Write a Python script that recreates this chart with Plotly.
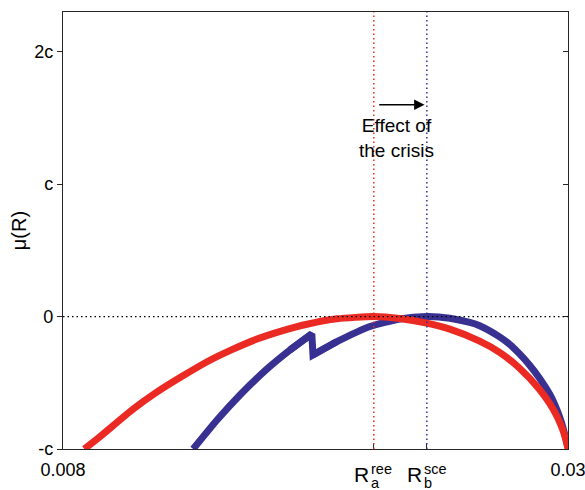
import plotly.graph_objects as go

# Rates (x) and normalised utility mu(R) in units of c (y)
R_A = 0.02154   # R_a^ree
R_B = 0.02385   # R_b^sce

R_RED = [0.00893, 0.00962, 0.01106, 0.01210, 0.01319, 0.01428, 0.01536, 0.01645,
         0.01754, 0.01863, 0.01993, 0.02154, 0.02267, 0.02385, 0.02485, 0.02615,
         0.02702, 0.02789, 0.02876, 0.02920, 0.02954, 0.02976, 0.02989, 0.03000]
MU_RED = [-1.0, -0.905, -0.698, -0.569, -0.451, -0.341, -0.250, -0.170,
          -0.108, -0.058, -0.017, 0.0, -0.015, -0.050, -0.095, -0.185,
          -0.270, -0.390, -0.550, -0.655, -0.760, -0.850, -0.920, -1.0]

R_BLUE = [0.01367, 0.01471, 0.01571, 0.01689, 0.01789, 0.01884, 0.01889, 0.01993,
          0.02137, 0.02267, 0.02385, 0.02485, 0.02572, 0.02615, 0.02702, 0.02746,
          0.02789, 0.02833, 0.02876, 0.02920, 0.02941, 0.02963, 0.02976, 0.02989,
          0.03000]
MU_BLUE = [-1.0, -0.781, -0.592, -0.395, -0.252, -0.131, -0.290, -0.190,
           -0.075, -0.018, 0.0, -0.012, -0.044, -0.069, -0.153, -0.210,
           -0.282, -0.367, -0.465, -0.585, -0.660, -0.755, -0.827, -0.911,
           -0.986]
BLUE_PEAK, BLUE_DIP = 5, 6   # the jump in the blue curve

X_TICKS = [0.008, R_A, R_B, 0.030]
X_TICKTEXT = ["0.008", "", "", "0.03"]
Y_TICKS = [-1, 0, 1, 2]
Y_TICKTEXT = ["-c", "0", "c", "2c"]

RED = "#ec2a24"
BLUE = "#383192"
FONT = "Liberation Sans, Arial, Helvetica, sans-serif"
AXIS_COLOR = "#262626"
DOT = "1.5px,3px"

fig = go.Figure()


def blue_piece(i0, i1, shape):
    fig.add_trace(go.Scatter(x=R_BLUE[i0:i1], y=MU_BLUE[i0:i1], mode="lines",
                             line=dict(color=BLUE, width=7, shape=shape, smoothing=0.6),
                             hoverinfo="skip"))


# smooth branches on either side of the jump, plus a sharp-cornered piece across it
blue_piece(0, BLUE_PEAK + 1, "spline")
blue_piece(BLUE_PEAK - 1, BLUE_DIP + 2, "linear")
blue_piece(BLUE_DIP, len(R_BLUE), "spline")

fig.add_trace(go.Scatter(x=R_RED, y=MU_RED, mode="lines",
                         line=dict(color=RED, width=7, shape="spline", smoothing=0.6),
                         hoverinfo="skip"))
# empty trace so the right-hand tick axis is drawn
fig.add_trace(go.Scatter(x=[], y=[], yaxis="y2", hoverinfo="skip"))

# reference lines
fig.add_hline(y=0, line=dict(color="black", width=1.3, dash=DOT))
fig.add_vline(x=R_A, line=dict(color=RED, width=1.5, dash=DOT))
fig.add_vline(x=R_B, line=dict(color=BLUE, width=1.5, dash=DOT))

annotations = [
    # arrow showing the shift of the optimum
    dict(x=0.02375, y=1.60, ax=0.02171, ay=1.60, xref="x", yref="y",
         axref="x", ayref="y", text="", showarrow=True, arrowhead=2,
         arrowsize=1.3, arrowwidth=1.6, arrowcolor="black"),
    dict(x=0.02254, y=1.345, xref="x", yref="y", text="Effect of<br>the crisis",
         showarrow=False, font=dict(size=19, family=FONT, color="black"),
         xanchor="center", yanchor="middle"),
]
for xv, sup, sub in [(R_A, "ree", "a"), (R_B, "sce", "b")]:
    annotations += [
        dict(x=xv, y=0, xref="x", yref="paper", text="R", showarrow=False,
             font=dict(size=21, family=FONT, color="black"),
             xanchor="right", yanchor="middle", xshift=-3, yshift=-25),
        dict(x=xv, y=0, xref="x", yref="paper", text=sup, showarrow=False,
             font=dict(size=14.5, family=FONT, color="black"),
             xanchor="left", yanchor="middle", xshift=-5, yshift=-20),
        dict(x=xv, y=0, xref="x", yref="paper", text=sub, showarrow=False,
             font=dict(size=14.5, family=FONT, color="black"),
             xanchor="left", yanchor="middle", xshift=-5, yshift=-34),
    ]

fig.update_layout(
    width=585, height=490,
    margin=dict(l=63, r=17, t=12, b=41, autoexpand=False),
    paper_bgcolor="white", plot_bgcolor="white",
    showlegend=False,
    font=dict(family=FONT, size=18, color="black"),
    annotations=annotations,
    xaxis=dict(range=[0.008, 0.030], tickvals=X_TICKS, ticktext=X_TICKTEXT,
               ticks="inside", ticklen=6, tickcolor=AXIS_COLOR, tickwidth=1.2,
               ticklabelstandoff=4, ticklabeloverflow="allow", automargin=False,
               showline=True, linecolor=AXIS_COLOR, linewidth=1.2, mirror=True,
               showgrid=False, zeroline=False, tickfont=dict(size=18)),
    yaxis=dict(range=[-1, 2.30], tickvals=Y_TICKS, ticktext=Y_TICKTEXT,
               ticks="outside", ticklen=5, tickcolor=AXIS_COLOR, tickwidth=1.2,
               automargin=False,
               showline=True, linecolor=AXIS_COLOR, linewidth=1.2, mirror=True,
               showgrid=False, zeroline=False, tickfont=dict(size=18),
               title=dict(text="μ(R)", font=dict(size=20), standoff=2)),
    yaxis2=dict(range=[-1, 2.30], overlaying="y", side="right", tickvals=Y_TICKS,
                ticks="inside", ticklen=5, tickcolor=AXIS_COLOR, tickwidth=1.2,
                showticklabels=False, showline=False, showgrid=False, zeroline=False),
)

fig.write_html("out.html")
